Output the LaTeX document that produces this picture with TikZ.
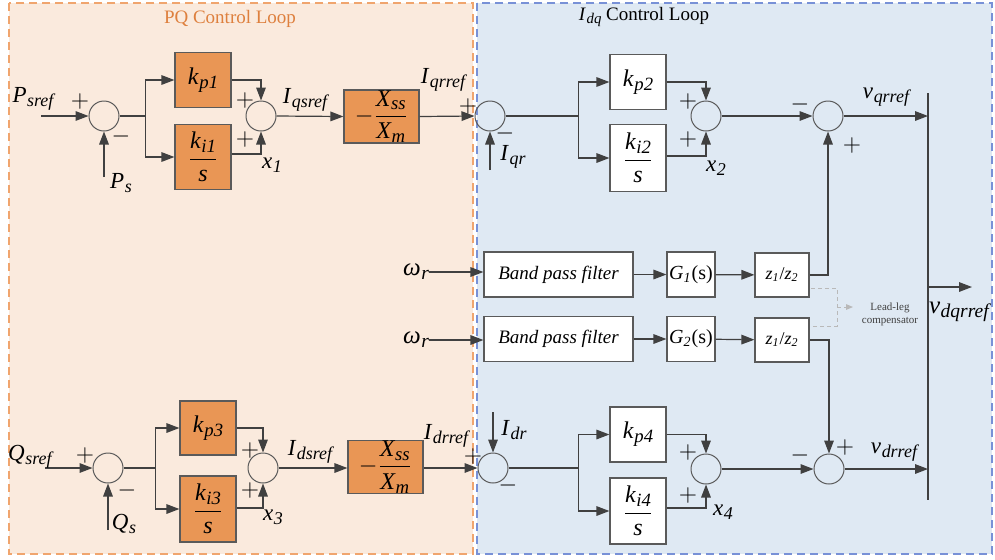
\documentclass[tikz,border=0pt]{standalone}
\usepackage{fontspec}
\setmainfont{Liberation Serif}
\usepackage{amsmath}
\usetikzlibrary{arrows.meta,calc}
\definecolor{cPQbg}   {RGB}{250,234,221}
\definecolor{cPQedge} {RGB}{240,165,110}
\definecolor{cPQtitle}{RGB}{222,128,62}
\definecolor{cDQbg}   {RGB}{223,233,243}
\definecolor{cDQedge} {RGB}{120,145,215}
\definecolor{cGain}   {RGB}{233,150,85}
\definecolor{cWire}   {RGB}{64,64,64}
\definecolor{cEdge}   {RGB}{90,90,90}
\definecolor{cLead}   {RGB}{185,185,185}
\newcommand{\vsym}[2]{\textit{#1}\kern0.3pt\raisebox{-0.35ex}{\scalebox{0.78}{\textit{#2}}}}
\newcommand{\gainfrac}{\ensuremath{-\dfrac{\vsym{X}{ss}}{\vsym{X}{m}}}}
\newcommand{\intfrac}[1]{\ensuremath{\dfrac{\vsym{k}{#1}}{\textit{s}}}}
\tikzset{
  wire/.style={cWire,line width=0.6pt},
  sig/.style={wire,-{Triangle[length=6.5pt,width=4.8pt]}},
  sumnode/.style={circle,draw=cEdge,line width=0.5pt,minimum size=15pt,inner sep=0pt},
  pibox/.style={draw=cEdge,line width=0.6pt,fill=#1,inner sep=0pt,minimum width=28pt,font=\fontsize{12}{14}\selectfont},
  gainbox/.style={draw=cEdge,line width=0.6pt,fill=cGain,inner sep=0pt,minimum width=37.5pt,minimum height=26.5pt,font=\fontsize{12}{14}\selectfont},
  filtbox/.style={draw=cEdge,line width=0.6pt,fill=white,inner sep=0pt,minimum height=22.5pt},
  sgn/.style={font=\fontsize{12}{12}\selectfont,inner sep=0pt},
  lbl/.style={font=\fontsize{11.5}{13}\selectfont,inner sep=0pt},
  leadline/.style={cLead,line width=0.5pt,dashed,dash pattern=on 2pt off 1.5pt},
}

\begin{document}
\begin{tikzpicture}[x=0.5pt,y=-0.5pt,font=\fontsize{10}{12}\selectfont]
\useasboundingbox (0,0) rectangle (995,559);

% fondo de los dos lazos
\draw[cPQedge,dashed,dash pattern=on 4pt off 2.5pt,line width=0.6pt,fill=cPQbg] (9,3) rectangle (473,554);
\draw[cDQedge,dashed,dash pattern=on 4pt off 2.5pt,line width=0.6pt,fill=cDQbg] (477,3) rectangle (992,554);
\node[text=cPQtitle,font=\fontsize{9.5}{11}\selectfont] (tPQ) at (230,19) {PQ Control Loop};
\node[font=\fontsize{9.5}{11}\selectfont] (tDQ) at (644,17) {\vsym{I}{dq} Control Loop};

% =================== LAZO P (arriba) ===================
\node[sumnode] (sumA) at (104,116) {};
\node[pibox=cGain,minimum height=27.5pt] (kpA) at (203,80) {\vsym{k}{p1}};
\node[pibox=cGain,minimum height=32.5pt] (kiA) at (203,157) {\intfrac{i1}};
\node[sumnode] (sumB) at (261,116) {};
\node[gainbox] (gainA) at (381.5,116.5) {\gainfrac};
\node[sumnode] (sumC) at (490,116) {};
\node[pibox=white,minimum height=27.5pt] (kpB) at (638,82) {\vsym{k}{p2}};
\node[pibox=white,minimum height=33.5pt] (kiB) at (638,158) {\intfrac{i2}};
\node[sumnode] (sumD) at (706,116) {};
\node[sumnode] (sumE) at (828,116) {};

\coordinate (inP)  at (41,116);
\coordinate (inPs) at (104,177);
\coordinate (inIq) at (490,170);
\draw[sig] (inP) -- (sumA.west);
\draw[sig] (inPs) -- (sumA.south);
\draw[wire] (sumA.east) -- ++(26,0) coordinate (brA);
\draw[sig] (brA) |- (kpA.west);
\draw[sig] (brA) |- (kiA.west);
\draw[sig] (kpA.east) -| (sumB.north);
\draw[sig] ([yshift=1.5pt]kiA.east) -| (sumB.south);
\draw[sig] (sumB.east) -- (gainA.west);
\draw[sig] (gainA.east) -- (sumC.west);
\draw[sig] (inIq) -- (sumC.south);
\draw[wire] (sumC.east) -- ++(73,0) coordinate (brB);
\draw[sig] (brB) |- (kpB.west);
\draw[sig] (brB) |- (kiB.west);
\draw[sig] (kpB.east) -| (sumD.north);
\draw[sig] ([yshift=1pt]kiB.east) -| (sumD.south);
\draw[sig] (sumD.east) -- (sumE.west);

\node[lbl] (lPsref) at (34,99)   {\vsym{P}{sref}};
\node[lbl] (lPs)    at (121,183) {\vsym{P}{s}};
\node[lbl] (lx1)    at (272,165) {\vsym{x}{1}};
\node[lbl] (lIqs)   at (306,100) {\vsym{I}{qsref}};
\node[lbl] (lIqr)   at (444,80)  {\vsym{I}{qrref}};
\node[lbl] (lIq)    at (513,157) {\vsym{I}{qr}};
\node[lbl] (lx2)    at (716,168) {\vsym{x}{2}};
\node[lbl] (lvq)    at (887,97)  {\vsym{v}{qrref}};
\node[sgn] at (80,101)  {$+$};
\node[sgn] at (121,136) {$-$};
\node[sgn] at (245,100) {$+$};
\node[sgn] at (245,139) {$+$};
\node[sgn] at (468,106) {$+$};
\node[sgn] at (505,133) {$-$};
\node[sgn] at (688,101) {$+$};
\node[sgn] at (688,139) {$+$};
\node[sgn] at (800,104) {$-$};
\node[sgn] at (852,145) {$+$};

% =================== AMORTIGUAMIENTO (centro) ===================
\node[lbl,font=\fontsize{12.5}{14}\selectfont] (wA) at (416,272) {\vsym{ω}{r}};
\node[lbl,font=\fontsize{12.5}{14}\selectfont] (wB) at (416,340) {\vsym{ω}{r}};
\node[filtbox,minimum width=74.5pt,font=\fontsize{9.5}{11}\selectfont\itshape] (bpfA) at (558.5,274.5) {Band pass filter};
\node[filtbox,minimum width=24pt] (gA) at (691,274.5) {\textit{G}\textsubscript{\textit{1}}(s)};
\node[filtbox,minimum width=27pt,minimum height=22pt,font=\fontsize{9}{11}\selectfont] (zA) at (782,275) {\textit{z}\textsubscript{\textit{1}}/\textit{z}\textsubscript{\textit{2}}};
\node[filtbox,minimum width=74.5pt,font=\fontsize{9.5}{11}\selectfont\itshape] (bpfB) at (558.5,339) {Band pass filter};
\node[filtbox,minimum width=24pt] (gB) at (691,339) {\textit{G}\textsubscript{\textit{2}}(s)};
\node[filtbox,minimum width=27pt,minimum height=22pt,font=\fontsize{9}{11}\selectfont] (zB) at (782,340) {\textit{z}\textsubscript{\textit{1}}/\textit{z}\textsubscript{\textit{2}}};
\draw[sig] (wA.east) -- (wA.east -| bpfA.west);
\draw[sig] (wB.east) -- (wB.east -| bpfB.west);
\draw[sig] (bpfA) -- (gA);
\draw[sig] (gA) -- (zA);
\draw[sig] (bpfB) -- (gB);
\draw[sig] (gB) -- (zB);

% compensador (gris, discontinuo)
\coordinate (ldA) at (811,288);
\coordinate (ldB) at (811,326);
\coordinate (ldC) at (837,307);
\coordinate (ldD) at (853,307);
\draw[leadline] (ldA) -| (ldC) |- (ldB);
\draw[leadline,-{Triangle[length=3.5pt,width=2.8pt]}] (ldC) -- (ldD);
\node[font=\fontsize{5.5}{6.5}\selectfont,align=center,text=cWire] (lLead) at (890,314) {Lead-leg\\compensator};

% =================== LAZO Q (abajo) ===================
\node[sumnode] (sumF) at (108,468) {};
\node[pibox=cGain,minimum height=27pt] (kpC) at (208,428) {\vsym{k}{p3}};
\node[pibox=cGain,minimum height=33pt] (kiC) at (208,509) {\intfrac{i3}};
\node[sumnode] (sumG) at (263,468) {};
\node[gainbox] (gainB) at (385.5,467) {\gainfrac};
\node[sumnode] (sumH) at (493,468) {};
\node[pibox=white,minimum height=27.5pt] (kpD) at (638,434.5) {\vsym{k}{p4}};
\node[pibox=white,minimum height=33pt] (kiD) at (638,511) {\intfrac{i4}};
\node[sumnode] (sumI) at (706,469) {};
\node[sumnode] (sumJ) at (829,469) {};

\coordinate (inQ)  at (45,468);
\coordinate (inQs) at (108,530);
\coordinate (inId) at (493,412);
\draw[sig] (inQ) -- (sumF.west);
\draw[sig] (inQs) -- (sumF.south);
\draw[wire] (sumF.east) -- ++(32,0) coordinate (brC);
\draw[sig] (brC) |- (kpC.west);
\draw[sig] (brC) |- (kiC.west);
\draw[sig] (kpC.east) -| (sumG.north);
\draw[sig] ([yshift=0.5pt]kiC.east) -| (sumG.south);
\draw[sig] (sumG.east) -- (sumG.east -| gainB.west);
\draw[sig] (gainB.east |- sumH) -- (sumH.west);
\draw[sig] (inId) -- (sumH.north);
\draw[wire] (sumH.east) -- ++(70,0) coordinate (brD);
\draw[sig] (brD) |- (kpD.west);
\draw[sig] (brD) |- (kiD.west);
\draw[sig] (kpD.east) -| (sumI.north);
\draw[sig] ([yshift=1.5pt]kiD.east) -| (sumI.south);
\draw[sig] (sumI.east) -- (sumJ.west);

\node[lbl] (lQsref) at (31,457)  {\vsym{Q}{sref}};
\node[lbl] (lQs)    at (124,524) {\vsym{Q}{s}};
\node[lbl] (lx3)    at (273,517) {\vsym{x}{3}};
\node[lbl] (lIds)   at (311,452) {\vsym{I}{dsref}};
\node[lbl] (lIdr)   at (447,436) {\vsym{I}{drref}};
\node[lbl] (lId)    at (514,430) {\vsym{I}{dr}};
\node[lbl] (lx4)    at (723,512) {\vsym{x}{4}};
\node[lbl] (lvd)    at (895,452) {\vsym{v}{drref}};
\node[sgn] at (85,455)  {$+$};
\node[sgn] at (127,490) {$-$};
\node[sgn] at (250,450) {$+$};
\node[sgn] at (250,490) {$+$};
\node[sgn] at (473,456) {$+$};
\node[sgn] at (508,485) {$-$};
\node[sgn] at (688,452) {$+$};
\node[sgn] at (688,495) {$+$};
\node[sgn] at (800,455) {$-$};
\node[sgn] at (845,447) {$+$};

% =================== SALIDA ===================
\coordinate (busT) at (928,93);
\coordinate (busB) at (928,500);
\coordinate (busO) at (928,287);
\coordinate (vOut) at (972,287);
\draw[wire] (busT) -- (busB);
\draw[sig] (zA.east) -| (sumE.south);
\draw[sig] (zB.east) -| (sumJ.north);
\draw[sig] (sumE.east) -- (sumE.east -| busT);
\draw[sig] (sumJ.east) -- (sumJ.east -| busT);
\draw[sig] (busO) -- (vOut);
\node[lbl,font=\fontsize{12.5}{14}\selectfont] (lvdq) at (960,312) {\vsym{v}{dqrref}};

\end{tikzpicture}
\end{document}
